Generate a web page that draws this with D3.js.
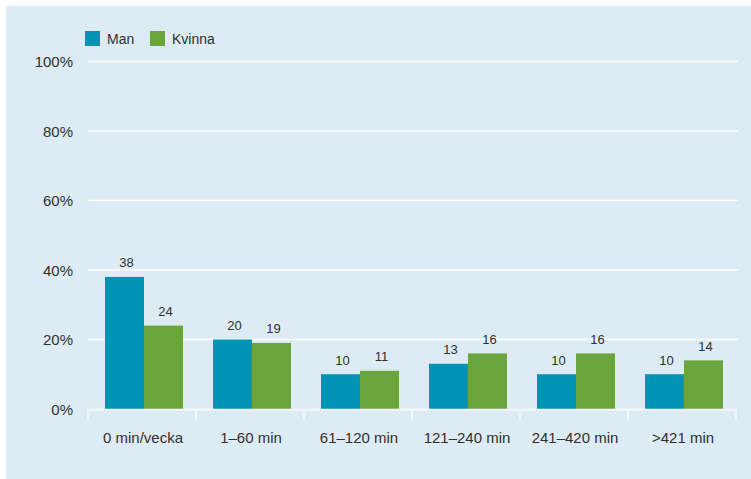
<!DOCTYPE html>
<html>
<head>
<meta charset="utf-8">
<script src="https://cdn.jsdelivr.net/npm/d3@7"></script>
<style>
  html, body { margin: 0; padding: 0; background: #ffffff; }
  svg { display: block; font-family: "Liberation Sans", Arial, Helvetica, sans-serif; }
</style>
</head>
<body>
<svg id="chart" width="751" height="479"></svg>
<script>
const categories = ["0 min/vecka", "1\u201360 min", "61\u2013120 min", "121\u2013240 min", "241\u2013420 min", ">421 min"];
const seriesNames = ["Man", "Kvinna"];
const manValues = [38, 20, 10, 13, 10, 10];
const kvinnaValues = [24, 19, 11, 16, 16, 14];
const yTicks = [0, 20, 40, 60, 80, 100];
const colors = ["#0093b6", "#6aa53c"];

const svg = d3.select("#chart");
svg.append("rect").attr("x", 6).attr("y", 6).attr("width", 745).attr("height", 473).attr("fill", "#dcebf4");

const x0 = 88, x1 = 736, yTop = 61.5, yBot = 409;
const x = d3.scaleBand().domain(categories).range([x0, x1]).padding(0);
const y = d3.scaleLinear().domain([0, 100]).range([yBot, yTop]);
const barW = 39;
const xs = d3.scaleBand().domain(seriesNames).range([0, barW * 2]);

// grid lines
svg.append("g").selectAll("line").data(yTicks.filter(d => d > 0)).join("line")
  .attr("x1", x0).attr("x2", 738)
  .attr("y1", d => y(d)).attr("y2", d => y(d))
  .attr("stroke", "#ffffff").attr("stroke-width", 1.3);

// y labels
svg.append("g").selectAll("text").data(yTicks).join("text")
  .attr("x", 73).attr("y", d => y(d) + 5.5)
  .attr("text-anchor", "end").attr("font-size", 15).attr("fill", "#332f2b")
  .text(d => d + "%");

// bars
const data = categories.map((c, i) => ({ c, vals: [manValues[i], kvinnaValues[i]] }));
const groups = svg.append("g").selectAll("g").data(data).join("g")
  .attr("transform", d => `translate(${x(d.c) + x.bandwidth() / 2 - barW + 2},0)`);
groups.selectAll("rect").data(d => d.vals.map((v, j) => ({ v, s: seriesNames[j], j }))).join("rect")
  .attr("x", d => xs(d.s)).attr("width", xs.bandwidth())
  .attr("y", d => y(d.v)).attr("height", d => yBot - y(d.v))
  .attr("fill", d => colors[d.j]);
groups.selectAll("text").data(d => d.vals.map((v, j) => ({ v, s: seriesNames[j], j }))).join("text")
  .attr("x", d => xs(d.s) + xs.bandwidth() / 2 + 2)
  .attr("y", d => y(d.v) - 9.5)
  .attr("text-anchor", "middle").attr("font-size", 13).attr("fill", "#332f2b")
  .text(d => d.v);

// x axis
const axis = svg.append("g");
axis.append("line").attr("x1", x0).attr("x2", x1).attr("y1", yBot + 0.5).attr("y2", yBot + 0.5)
  .attr("stroke", "#ffffff").attr("stroke-width", 1.3);
const bounds = categories.map(c => x(c)).concat([x1]);
axis.selectAll("line.tick").data(bounds).join("line").attr("class", "tick")
  .attr("x1", d => d).attr("x2", d => d).attr("y1", yBot).attr("y2", yBot + 11)
  .attr("stroke", "#ffffff").attr("stroke-width", 1.3);
axis.selectAll("text").data(categories).join("text")
  .attr("x", d => x(d) + x.bandwidth() / 2 + 1).attr("y", yBot + 34)
  .attr("text-anchor", "middle").attr("font-size", 15).attr("fill", "#332f2b")
  .text(d => d);

// legend
const legend = svg.append("g");
const legX = [85, 150];
seriesNames.forEach((s, i) => {
  legend.append("rect").attr("x", legX[i]).attr("y", 31).attr("width", 15).attr("height", 15).attr("fill", colors[i]);
  legend.append("text").attr("x", legX[i] + 22).attr("y", 43.5).attr("font-size", 14).attr("fill", "#332f2b").text(s);
});
</script>
</body>
</html>
